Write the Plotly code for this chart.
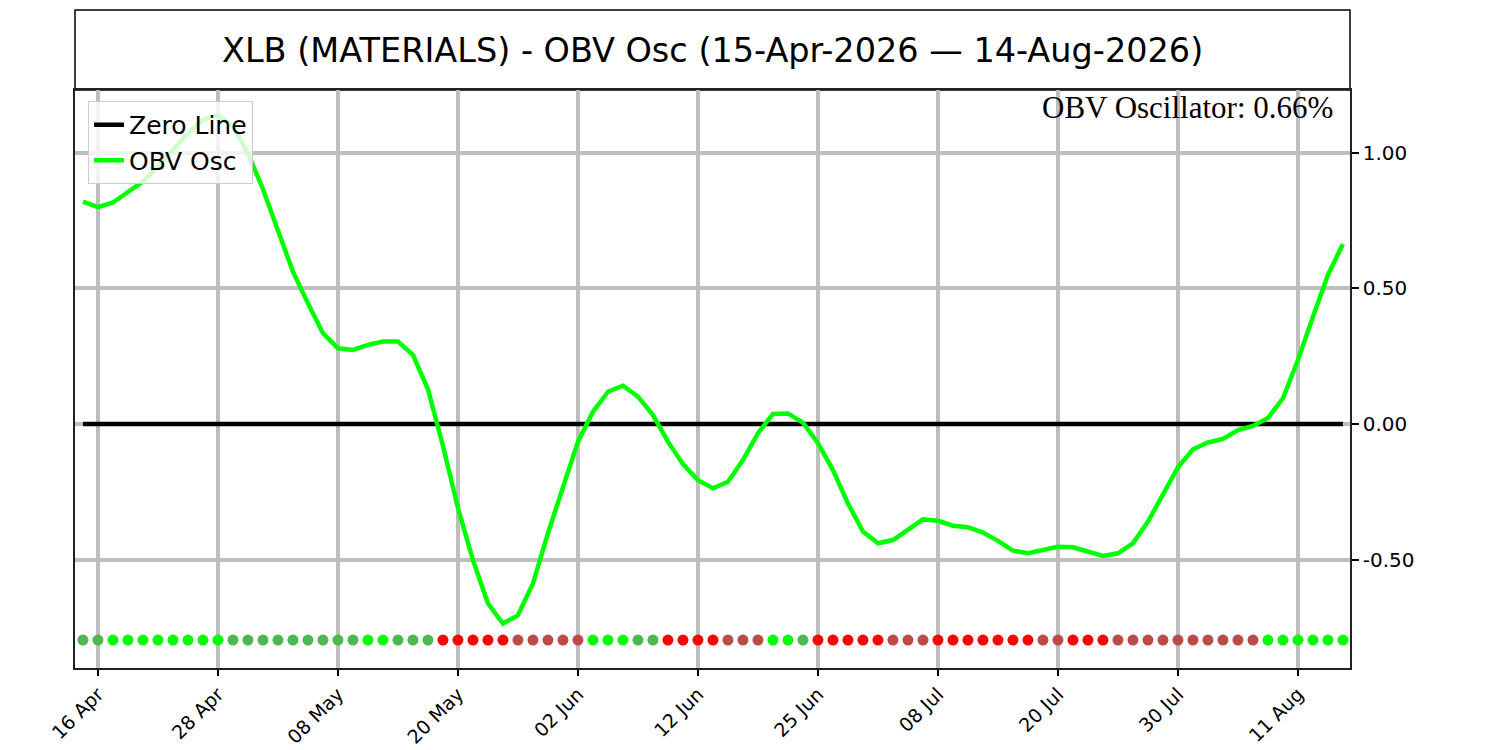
import plotly.graph_objects as go

# trading days 15-Apr-2026 .. 14-Aug-2026
dates = [
    "2026-04-15", "2026-04-16", "2026-04-17", "2026-04-20", "2026-04-21", "2026-04-22", "2026-04-23", "2026-04-24",
    "2026-04-27", "2026-04-28", "2026-04-29", "2026-04-30", "2026-05-01", "2026-05-04", "2026-05-05", "2026-05-06",
    "2026-05-07", "2026-05-08", "2026-05-11", "2026-05-12", "2026-05-13", "2026-05-14", "2026-05-15", "2026-05-18",
    "2026-05-19", "2026-05-20", "2026-05-21", "2026-05-22", "2026-05-26", "2026-05-27", "2026-05-28", "2026-05-29",
    "2026-06-01", "2026-06-02", "2026-06-03", "2026-06-04", "2026-06-05", "2026-06-08", "2026-06-09", "2026-06-10",
    "2026-06-11", "2026-06-12", "2026-06-15", "2026-06-16", "2026-06-17", "2026-06-18", "2026-06-22", "2026-06-23",
    "2026-06-24", "2026-06-25", "2026-06-26", "2026-06-29", "2026-06-30", "2026-07-01", "2026-07-02", "2026-07-06",
    "2026-07-07", "2026-07-08", "2026-07-09", "2026-07-10", "2026-07-13", "2026-07-14", "2026-07-15", "2026-07-16",
    "2026-07-17", "2026-07-20", "2026-07-21", "2026-07-22", "2026-07-23", "2026-07-24", "2026-07-27", "2026-07-28",
    "2026-07-29", "2026-07-30", "2026-07-31", "2026-08-03", "2026-08-04", "2026-08-05", "2026-08-06", "2026-08-07",
    "2026-08-10", "2026-08-11", "2026-08-12", "2026-08-13", "2026-08-14",
]

obv_osc = [
    0.820, 0.800, 0.817, 0.855, 0.894, 0.949, 1.011, 1.073, 1.122, 1.140,
    1.097, 0.999, 0.866, 0.710, 0.562, 0.445, 0.335, 0.279, 0.273, 0.292,
    0.304, 0.304, 0.255, 0.128, -0.080, -0.310, -0.502, -0.662, -0.736, -0.705,
    -0.588, -0.403, -0.231, -0.065, 0.045, 0.119, 0.141, 0.101, 0.033, -0.065,
    -0.148, -0.207, -0.237, -0.213, -0.133, -0.034, 0.037, 0.039, 0.005, -0.071,
    -0.170, -0.293, -0.397, -0.440, -0.428, -0.389, -0.352, -0.357, -0.375, -0.381,
    -0.400, -0.431, -0.467, -0.477, -0.463, -0.453, -0.455, -0.469, -0.487, -0.477,
    -0.440, -0.360, -0.262, -0.160, -0.093, -0.068, -0.055, -0.022, -0.007, 0.022,
    0.095, 0.236, 0.396, 0.550, 0.664,
]

# signal dots: G strong up, g weak up, R strong down, r weak down
signal = ("ggGGGGGGGGgggggggggGGgggRRRRRrrrrrGGGggRRRRrrrGGg"
          "RRRRRrrrRRRRRRRrrRRRrrrrrrrrrrGGGGGG")
signal_colors = {"G": "#00ff00", "g": "#4db84d", "R": "#ff0000", "r": "#bb4a4a"}
dot_level = -0.797

tick_dates = ["2026-04-16", "2026-04-28", "2026-05-08", "2026-05-20", "2026-06-02", "2026-06-12",
              "2026-06-25", "2026-07-08", "2026-07-20", "2026-07-30", "2026-08-11"]
tick_labels = ["16 Apr", "28 Apr", "08 May", "20 May", "02 Jun", "12 Jun",
               "25 Jun", "08 Jul", "20 Jul", "30 Jul", "11 Aug"]
y_ticks = [-0.5, 0.0, 0.5, 1.0]
y_labels = ["-0.50", "0.00", "0.50", "1.00"]

title = "XLB (MATERIALS) - OBV Osc (15-Apr-2026 \u2014 14-Aug-2026)"
last_label = "OBV Oscillator: %.2f%%" % obv_osc[-1]

fig = go.Figure()
fig.add_trace(go.Scatter(x=dates, y=[0.0] * len(dates), mode="lines", name="Zero Line",
                         line=dict(color="black", width=4.5)))
fig.add_trace(go.Scatter(x=dates, y=obv_osc, mode="lines", name="OBV Osc",
                         line=dict(color="#00ff00", width=4.5)))
fig.add_trace(go.Scatter(x=dates, y=[dot_level] * len(dates), mode="markers", showlegend=False,
                         marker=dict(size=11, color=[signal_colors[c] for c in signal], line=dict(width=0))))

# page body has an 8px margin, so the figure is shifted by 8px inside the 1500x750 window
fig.update_layout(
    width=1484, height=742, autosize=False,
    margin=dict(l=67, r=142, t=82, b=82),
    paper_bgcolor="white", plot_bgcolor="white",
    font=dict(family="DejaVu Sans", size=20, color="black"),
    legend=dict(x=0.0102, y=0.981, xanchor="left", yanchor="top",
                bgcolor="rgba(255,255,255,0.8)", bordercolor="#cccccc", borderwidth=1,
                font=dict(size=25), itemwidth=30, tracegroupgap=0),
    showlegend=True,
)
fig.update_xaxes(
    type="category", categoryorder="array", categoryarray=dates,
    range=[-0.53, 84.47], automargin=False,
    tickmode="array", tickvals=tick_dates, ticktext=tick_labels, tickangle=-45,
    ticks="outside", ticklen=6, tickwidth=1.5, tickcolor="black",
    showgrid=True, gridcolor="#bebebe", gridwidth=4.2,
    showline=True, linecolor="#222222", linewidth=1.5, mirror=True,
    tickfont=dict(size=19),
)
fig.update_yaxes(
    side="right", range=[-0.90, 1.232], automargin=False,
    tickmode="array", tickvals=y_ticks, ticktext=y_labels,
    ticks="outside", ticklen=7, tickwidth=1.5, tickcolor="black",
    showgrid=True, gridcolor="#bebebe", gridwidth=4.2, zeroline=False,
    showline=True, linecolor="#222222", linewidth=1.5, mirror=True,
    tickfont=dict(size=20),
)

# title box above the plot
fig.add_shape(type="rect", xref="paper", yref="paper", x0=0, x1=1, y0=1, y1=1.1384,
              line=dict(color="black", width=1.5), fillcolor="white", layer="below")
fig.add_annotation(text=title, xref="paper", yref="paper", x=0.5, y=1.069,
                   xanchor="center", yanchor="middle", showarrow=False,
                   font=dict(family="DejaVu Sans", size=33.5, color="black"))
fig.add_annotation(text=last_label, xref="paper", yref="paper", x=0.988, y=0.969,
                   xanchor="right", yanchor="middle", showarrow=False,
                   font=dict(family="Liberation Serif", size=31, color="black"))

fig.write_html("out.html")
